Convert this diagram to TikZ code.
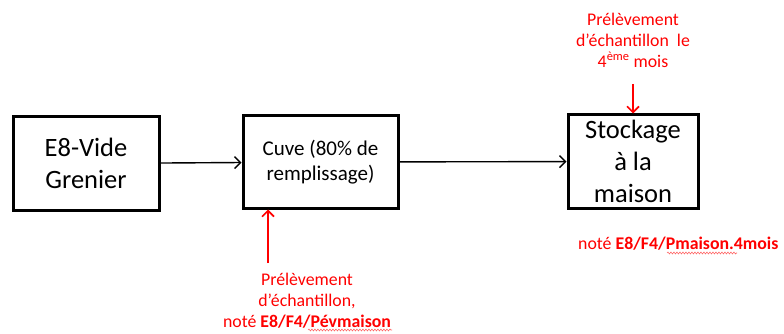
\documentclass[tikz,border=0pt]{standalone}
\usepackage{fontspec}
\setmainfont{Carlito}
\usetikzlibrary{arrows.meta,decorations.pathmorphing}
\tikzset{
  box/.style={draw=black,line width=3pt,align=center,inner sep=2pt},
  flow/.style={draw=black,line width=1.4pt,-{Straight Barb[length=6pt,width=12pt,line width=1.4pt]}},
  redflow/.style={draw=red,line width=1.6pt,-{Straight Barb[length=6pt,width=12pt,line width=1.6pt]}},
  note/.style={text=red,align=center,font=\fontsize{17.8}{21}\selectfont,inner sep=0pt},
  squiggle/.style={draw=red!60,line width=0.6pt,decorate,decoration={snake,amplitude=0.9pt,segment length=3pt}}
}
\begin{document}
\begin{tikzpicture}[x=1pt,y=-1pt]
\useasboundingbox (0,0) rectangle (784,334);
\node[box,minimum width=146pt,minimum height=93pt,font=\fontsize{26.5}{32}\selectfont] (b1) at (86,163.5) {E8-Vide\\Grenier};
\node[box,minimum width=155pt,minimum height=92pt,font=\fontsize{21}{25}\selectfont] (b2) at (320.5,162) {Cuve (80\% de\\remplissage)};
\node[box,minimum width=130pt,minimum height=93pt,font=\fontsize{26.5}{32}\selectfont] (b3) at (633,161.5) {Stockage\\à la\\maison};
\draw[flow] (b1) -- (b2);
\draw[flow] (b2) -- (b3);
\node[note] (n1) at (633,40) {Prélèvement\\d’échantillon\ \ le\\4\textsuperscript{ème} mois};
\coordinate (t1) at (633,84);
\draw[redflow] (t1) -- (b3.north);
\coordinate (t2) at (268,263);
\draw[redflow] (t2) -- (t2 |- b2.south);
\node[note] (n2) at (307,301) {Prélèvement\\d’échantillon,\\noté \textbf{E8/F4/Pévmaison}};
\node[note,anchor=west] (n3) at (578,244) {noté \textbf{E8/F4/Pmaison.4mois}};
\coordinate (s1a) at (308,330);
\coordinate (s1b) at (392,330);
\draw[squiggle] (s1a) -- (s1b);
\coordinate (s2a) at (667,253);
\coordinate (s2b) at (737,253);
\draw[squiggle] (s2a) -- (s2b);
\end{tikzpicture}
\end{document}
